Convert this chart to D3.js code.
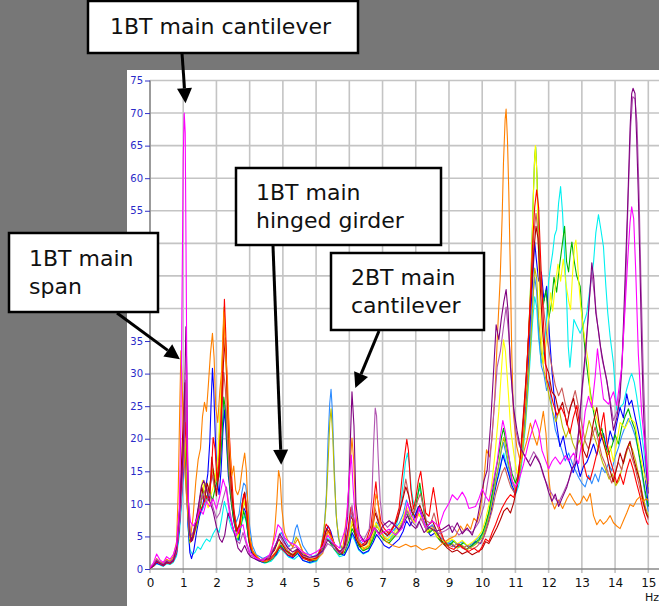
<!DOCTYPE html>
<html>
<head>
<meta charset="utf-8">
<script src="https://cdn.jsdelivr.net/npm/d3@7"></script>
<style>
  html, body { margin: 0; padding: 0; background: #777777; }
  svg { display: block; }
</style>
</head>
<body>
<svg id="chart" width="659" height="606"></svg>
<script>
// Frequency axis ticks (Hz) and amplitude ticks
const freqTicks = [0, 1, 2, 3, 4, 5, 6, 7, 8, 9, 10, 11, 12, 13, 14, 15];
const ampTicks = [0, 5, 10, 15, 20, 25, 30, 35, 40, 45, 50, 55, 60, 65, 70, 75];

// Spectra, stored as flat [frequency, amplitude, frequency, amplitude, ...] lists
const cyanTrace = [0,0.1, 0.1,0.4, 0.2,0.8, 0.3,0.6, 0.4,0.4, 0.5,0.8, 0.6,0.7, 0.7,1.0, 0.8,2.0, 0.88,5.1, 0.95,9.8, 1.0,13.6, 1.05,20.6, 1.1,14.8, 1.15,6.2, 1.2,3.0, 1.28,2.2, 1.36,2.6, 1.44,3.4, 1.52,3.0, 1.6,3.8, 1.7,4.6, 1.8,4.2, 1.9,5.4, 2.0,6.3, 2.08,5.6, 2.16,7.8, 2.24,10.4, 2.3,9.2, 2.38,7.6, 2.46,6.2, 2.54,5.4, 2.62,4.3, 2.7,5.6, 2.78,7.4, 2.84,8.2, 2.9,7.1, 2.98,4.6, 3.08,2.4, 3.25,1.3, 3.45,0.9, 3.65,1.2, 3.82,2.2, 3.94,3.1, 4.04,2.6, 4.18,1.8, 4.34,1.5, 4.48,2.1, 4.62,1.3, 4.82,0.9, 5.02,1.2, 5.18,2.6, 5.32,4.8, 5.42,4.4, 5.55,3.0, 5.7,1.9, 5.85,2.1, 6.0,3.8, 6.08,5.2, 6.16,4.4, 6.28,2.9, 6.42,2.3, 6.58,2.7, 6.72,4.6, 6.82,6.8, 6.92,6.0, 7.05,5.0, 7.2,4.4, 7.35,5.6, 7.45,7.4, 7.55,10.2, 7.63,13.6, 7.69,16.4, 7.75,17.8, 7.8,16.2, 7.87,12.1, 7.95,9.6, 8.05,11.4, 8.12,12.4, 8.2,10.2, 8.3,7.4, 8.42,6.0, 8.55,6.6, 8.7,5.0, 8.85,4.2, 9.0,3.8, 9.15,4.4, 9.3,3.6, 9.45,4.0, 9.6,3.4, 9.75,3.7, 9.9,4.4, 10.0,5.0, 10.1,6.4, 10.2,8.2, 10.3,10.6, 10.4,12.8, 10.5,14.4, 10.58,16.4, 10.65,17.8, 10.72,16.2, 10.8,14.6, 10.9,12.4, 11.0,11.4, 11.1,12.8, 11.2,16.6, 11.3,21.8, 11.38,27.2, 11.46,33.6, 11.52,38.2, 11.58,41.8, 11.64,40.2, 11.7,35.4, 11.78,31.6, 11.86,33.4, 11.94,38.6, 12.0,44.2, 12.06,46.5, 12.12,48.5, 12.18,51.2, 12.24,52.1, 12.3,56.2, 12.36,58.7, 12.42,54.6, 12.49,47.0, 12.55,40.2, 12.59,34.2, 12.64,31.0, 12.7,34.6, 12.76,38.3, 12.84,37.4, 12.95,36.2, 13.05,37.6, 13.15,39.3, 13.25,43.4, 13.35,47.0, 13.42,51.6, 13.5,54.4, 13.57,52.2, 13.65,49.5, 13.72,43.6, 13.78,39.3, 13.85,35.7, 13.95,31.6, 14.05,24.4, 14.15,24.8, 14.25,25.4, 14.35,27.6, 14.45,29.4, 14.5,30.0, 14.58,28.6, 14.65,26.5, 14.75,22.8, 14.85,18.8, 14.95,14.2, 15.0,12.2];

const dodgerTrace = [0,0.2, 0.1,0.7, 0.2,1.5, 0.3,1.1, 0.4,0.8, 0.5,1.4, 0.6,1.1, 0.7,1.6, 0.8,3.2, 0.88,8.6, 0.95,14.8, 1.0,17.6, 1.05,15.2, 1.1,11.4, 1.15,6.8, 1.2,4.2, 1.3,4.9, 1.4,6.6, 1.5,8.2, 1.6,9.4, 1.7,10.8, 1.8,12.6, 1.88,14.4, 1.96,12.2, 2.05,13.6, 2.14,18.4, 2.2,22.6, 2.25,25.2, 2.3,21.8, 2.36,16.4, 2.44,11.2, 2.52,8.6, 2.6,7.2, 2.68,8.4, 2.76,11.6, 2.82,13.2, 2.88,12.8, 2.94,10.4, 3.0,6.6, 3.08,3.6, 3.2,2.2, 3.4,1.6, 3.6,2.1, 3.75,3.4, 3.88,4.8, 3.95,5.6, 4.05,4.6, 4.18,3.4, 4.3,4.2, 4.38,6.2, 4.43,6.8, 4.5,5.4, 4.6,3.6, 4.75,2.4, 4.9,1.9, 5.05,2.2, 5.15,3.4, 5.25,6.6, 5.31,11.6, 5.36,19.8, 5.41,25.4, 5.45,27.6, 5.49,24.2, 5.54,16.4, 5.6,8.6, 5.67,4.8, 5.75,3.2, 5.85,3.5, 5.95,5.2, 6.04,7.8, 6.1,8.4, 6.18,6.2, 6.3,4.4, 6.45,3.6, 6.6,4.2, 6.72,5.8, 6.82,7.2, 6.92,6.4, 7.05,5.6, 7.2,5.2, 7.35,6.1, 7.5,7.0, 7.62,8.4, 7.72,10.6, 7.82,9.2, 7.95,8.0, 8.08,9.4, 8.2,7.8, 8.35,6.2, 8.5,6.8, 8.65,5.2, 8.8,4.6, 8.95,4.0, 9.1,4.4, 9.25,3.8, 9.4,4.2, 9.55,3.5, 9.7,3.9, 9.85,4.6, 10.0,5.4, 10.1,6.8, 10.2,8.6, 10.3,11.2, 10.4,13.6, 10.5,15.8, 10.58,18.2, 10.64,19.4, 10.72,17.6, 10.8,15.4, 10.9,13.4, 11.0,12.2, 11.1,14.1, 11.2,18.6, 11.3,23.8, 11.38,29.6, 11.46,36.2, 11.52,41.4, 11.58,44.8, 11.64,42.6, 11.7,36.4, 11.78,31.2, 11.86,29.8, 11.94,27.4, 12.02,28.8, 12.1,24.6, 12.2,21.4, 12.3,19.8, 12.4,18.2, 12.5,16.6, 12.6,17.8, 12.7,16.4, 12.8,15.2, 12.9,14.1, 13.0,13.2, 13.1,12.6, 13.2,14.4, 13.3,13.1, 13.4,14.6, 13.5,13.4, 13.6,15.6, 13.7,14.8, 13.8,16.2, 13.9,15.1, 14.0,17.2, 14.1,18.6, 14.2,20.4, 14.3,21.8, 14.4,23.1, 14.5,22.0, 14.6,20.5, 14.7,18.2, 14.8,14.8, 14.9,11.6, 15.0,8.8];

const blueTrace = [0,0.1, 0.1,0.4, 0.2,0.9, 0.3,0.7, 0.4,0.5, 0.5,0.9, 0.6,0.8, 0.7,1.2, 0.8,2.4, 0.88,6.1, 0.95,11.4, 1.0,14.8, 1.05,18.5, 1.1,13.2, 1.15,6.4, 1.2,2.5, 1.25,1.6, 1.32,2.9, 1.4,5.6, 1.5,8.4, 1.58,9.6, 1.66,11.8, 1.74,14.6, 1.8,19.5, 1.84,25.6, 1.88,30.8, 1.92,27.4, 1.97,19.6, 2.02,13.8, 2.08,11.4, 2.14,15.2, 2.2,21.6, 2.25,24.4, 2.3,19.8, 2.36,14.2, 2.44,10.6, 2.52,7.4, 2.6,5.6, 2.68,4.4, 2.75,7.2, 2.82,9.4, 2.88,8.8, 2.95,5.2, 3.05,2.6, 3.2,1.5, 3.4,1.0, 3.6,1.3, 3.8,2.2, 3.92,3.6, 4.02,3.0, 4.15,2.1, 4.3,1.7, 4.45,2.4, 4.6,1.3, 4.8,1.0, 5.0,1.3, 5.15,2.9, 5.28,5.6, 5.36,6.6, 5.44,5.8, 5.55,3.8, 5.7,2.4, 5.85,2.1, 6.0,3.6, 6.08,5.6, 6.16,4.8, 6.28,3.1, 6.42,2.4, 6.58,2.8, 6.72,4.1, 6.82,5.3, 6.92,4.6, 7.05,3.6, 7.2,3.2, 7.35,3.9, 7.5,4.6, 7.62,5.8, 7.72,7.4, 7.82,6.6, 7.95,7.8, 8.08,9.6, 8.18,8.4, 8.3,6.2, 8.45,5.1, 8.6,5.6, 8.75,4.2, 8.9,3.6, 9.05,3.9, 9.2,3.3, 9.35,3.7, 9.5,3.0, 9.65,3.4, 9.8,4.2, 9.95,3.9, 10.05,5.0, 10.15,6.6, 10.25,8.4, 10.35,11.2, 10.45,13.6, 10.55,15.8, 10.62,17.5, 10.7,16.2, 10.8,14.6, 10.9,12.8, 11.0,11.6, 11.1,13.8, 11.2,18.2, 11.3,24.6, 11.38,31.2, 11.45,38.4, 11.52,44.6, 11.58,50.2, 11.63,47.5, 11.7,44.2, 11.78,45.6, 11.86,41.2, 11.94,43.4, 12.02,36.2, 12.1,30.4, 12.18,25.6, 12.24,22.2, 12.34,18.8, 12.44,20.4, 12.54,17.6, 12.64,16.2, 12.74,14.8, 12.84,16.6, 12.95,14.2, 13.05,15.8, 13.15,16.4, 13.25,17.7, 13.35,19.2, 13.45,17.5, 13.55,19.6, 13.65,20.8, 13.75,18.4, 13.85,21.2, 13.95,19.6, 14.05,22.4, 14.15,24.8, 14.25,23.2, 14.35,26.9, 14.42,25.2, 14.5,25.9, 14.6,23.4, 14.68,21.6, 14.75,19.8, 14.85,16.4, 14.95,12.2, 15.0,9.6];

const oliveTrace = [0,0.1, 0.1,0.5, 0.2,1.1, 0.3,0.8, 0.4,0.6, 0.5,1.0, 0.6,0.8, 0.7,1.3, 0.8,2.7, 0.88,7.0, 0.95,12.8, 1.0,16.4, 1.05,19.2, 1.1,14.6, 1.15,7.6, 1.2,4.0, 1.3,4.8, 1.4,6.5, 1.5,8.9, 1.58,11.6, 1.66,13.2, 1.74,11.8, 1.82,13.6, 1.9,15.4, 1.98,13.2, 2.06,16.8, 2.12,24.6, 2.18,32.4, 2.23,40.2, 2.27,35.6, 2.32,26.8, 2.38,18.2, 2.45,12.6, 2.52,9.0, 2.6,6.6, 2.68,5.8, 2.76,8.2, 2.83,10.4, 2.9,9.1, 2.98,5.6, 3.08,2.9, 3.25,1.6, 3.45,1.1, 3.65,1.5, 3.8,2.6, 3.92,4.0, 4.02,3.3, 4.15,2.5, 4.28,3.2, 4.4,4.9, 4.48,4.2, 4.6,2.5, 4.8,1.5, 5.0,1.7, 5.12,2.9, 5.22,5.2, 5.3,9.6, 5.36,16.2, 5.41,22.4, 5.45,24.6, 5.5,20.6, 5.55,13.8, 5.62,7.2, 5.7,4.2, 5.8,3.0, 5.92,3.8, 6.02,6.0, 6.1,6.9, 6.18,5.2, 6.3,3.6, 6.45,2.9, 6.6,3.4, 6.72,5.1, 6.82,6.6, 6.92,5.8, 7.05,4.8, 7.2,4.3, 7.35,5.2, 7.5,6.1, 7.62,7.4, 7.72,9.1, 7.82,8.0, 7.95,7.2, 8.08,8.6, 8.2,7.4, 8.35,5.6, 8.5,6.2, 8.65,4.8, 8.8,4.0, 8.95,3.5, 9.1,3.9, 9.25,3.2, 9.4,3.6, 9.55,3.0, 9.7,3.4, 9.85,4.0, 10.0,4.8, 10.1,6.2, 10.2,8.0, 10.3,10.4, 10.4,13.2, 10.5,16.1, 10.58,18.6, 10.65,20.2, 10.72,18.4, 10.8,16.0, 10.9,13.5, 11.0,12.2, 11.1,13.6, 11.2,17.4, 11.3,22.6, 11.38,28.4, 11.46,34.8, 11.52,40.6, 11.58,46.2, 11.64,44.6, 11.7,38.4, 11.78,33.2, 11.86,30.4, 11.94,28.6, 12.02,26.4, 12.12,24.2, 12.22,22.6, 12.32,24.4, 12.42,21.8, 12.52,20.2, 12.62,21.6, 12.72,19.4, 12.82,18.2, 12.92,19.8, 13.02,18.4, 13.12,20.6, 13.22,22.8, 13.32,21.2, 13.42,19.6, 13.52,18.1, 13.62,16.4, 13.72,15.2, 13.82,13.8, 13.92,14.6, 14.02,12.8, 14.12,13.6, 14.22,15.8, 14.32,17.4, 14.42,19.2, 14.52,18.4, 14.62,16.6, 14.72,14.2, 14.82,11.6, 14.92,9.4, 15.0,8.2];

const greenTrace = [0,0.2, 0.1,0.6, 0.2,1.3, 0.3,1.0, 0.4,0.7, 0.5,1.2, 0.6,1.0, 0.7,1.5, 0.8,3.1, 0.88,8.1, 0.95,14.2, 1.0,18.6, 1.05,20.8, 1.1,15.4, 1.15,8.2, 1.2,4.4, 1.3,5.1, 1.4,6.9, 1.5,9.1, 1.6,12.4, 1.68,10.6, 1.78,12.2, 1.88,10.5, 1.98,12.8, 2.08,14.2, 2.16,19.6, 2.22,26.4, 2.28,24.2, 2.34,16.8, 2.42,11.4, 2.5,8.2, 2.58,6.1, 2.66,4.5, 2.74,6.8, 2.82,8.9, 2.9,7.4, 2.98,4.1, 3.1,2.3, 3.3,1.3, 3.5,1.0, 3.7,1.6, 3.85,2.9, 3.95,3.6, 4.05,3.1, 4.2,2.3, 4.35,2.0, 4.48,2.7, 4.6,1.9, 4.8,1.2, 5.0,1.4, 5.15,2.6, 5.3,4.6, 5.4,4.2, 5.55,3.0, 5.7,2.2, 5.85,2.5, 6.0,4.4, 6.08,6.2, 6.16,5.4, 6.28,3.6, 6.42,2.8, 6.58,3.2, 6.72,4.6, 6.82,6.0, 6.92,5.2, 7.05,4.4, 7.2,4.0, 7.35,4.9, 7.5,5.8, 7.62,7.2, 7.72,8.6, 7.82,7.6, 7.95,8.8, 8.06,11.2, 8.12,13.2, 8.2,10.6, 8.3,7.2, 8.42,5.6, 8.55,6.2, 8.7,4.6, 8.85,4.0, 9.0,3.6, 9.15,4.3, 9.3,3.5, 9.45,4.1, 9.6,3.3, 9.75,3.9, 9.9,4.5, 10.0,5.4, 10.1,6.9, 10.2,8.8, 10.3,11.6, 10.4,14.8, 10.5,17.6, 10.58,20.2, 10.64,21.6, 10.72,19.4, 10.8,17.2, 10.9,14.6, 11.0,13.2, 11.1,14.8, 11.2,19.6, 11.3,26.4, 11.38,33.6, 11.45,42.4, 11.5,50.2, 11.54,57.6, 11.58,63.4, 11.61,64.8, 11.65,60.2, 11.7,51.6, 11.76,44.2, 11.84,40.6, 11.92,42.8, 12.0,38.4, 12.08,40.6, 12.16,44.8, 12.24,42.5, 12.32,46.2, 12.4,49.4, 12.48,52.6, 12.54,47.2, 12.6,45.6, 12.66,48.8, 12.7,50.2, 12.76,47.6, 12.84,45.1, 12.95,43.4, 13.02,38.2, 13.1,33.2, 13.2,29.1, 13.3,25.6, 13.4,22.8, 13.5,20.4, 13.6,21.6, 13.7,19.1, 13.8,17.6, 13.9,18.8, 14.0,20.6, 14.1,19.2, 14.2,21.8, 14.3,23.4, 14.4,24.6, 14.5,22.8, 14.6,21.4, 14.7,18.2, 14.8,15.4, 14.9,12.1, 15.0,9.6];

const yellowTrace = [0,0.1, 0.1,0.5, 0.2,1.2, 0.3,0.9, 0.4,0.6, 0.5,1.1, 0.6,0.9, 0.7,1.4, 0.8,2.9, 0.88,7.6, 0.95,13.5, 1.0,17.2, 1.05,22.4, 1.1,16.1, 1.15,8.6, 1.2,4.6, 1.3,5.4, 1.4,7.2, 1.5,10.6, 1.58,13.6, 1.65,11.2, 1.75,9.4, 1.85,11.6, 1.95,13.4, 2.05,17.6, 2.12,25.8, 2.18,33.2, 2.23,39.6, 2.28,34.1, 2.33,24.6, 2.4,15.2, 2.48,10.4, 2.56,7.2, 2.64,4.8, 2.72,6.6, 2.8,9.6, 2.87,10.8, 2.95,6.4, 3.05,3.2, 3.2,1.8, 3.4,1.1, 3.6,1.5, 3.8,2.8, 3.92,4.2, 4.02,3.4, 4.15,2.6, 4.3,2.2, 4.42,3.1, 4.55,2.4, 4.75,1.5, 5.0,1.7, 5.15,3.0, 5.3,5.4, 5.42,5.0, 5.55,3.6, 5.7,2.6, 5.85,2.9, 6.0,5.2, 6.08,7.4, 6.15,6.5, 6.25,4.3, 6.4,3.1, 6.55,3.6, 6.7,5.4, 6.8,7.1, 6.9,6.2, 7.0,5.1, 7.15,4.6, 7.3,5.4, 7.45,6.2, 7.6,7.5, 7.72,9.6, 7.82,8.4, 7.95,7.1, 8.1,8.4, 8.22,7.3, 8.35,5.8, 8.5,6.4, 8.65,5.0, 8.8,4.4, 8.95,4.1, 9.1,4.6, 9.25,3.9, 9.4,4.4, 9.55,3.6, 9.7,4.1, 9.85,4.8, 10.0,5.9, 10.1,7.6, 10.2,9.8, 10.3,13.6, 10.4,18.4, 10.5,24.2, 10.58,30.6, 10.64,35.2, 10.7,33.4, 10.78,27.6, 10.86,21.4, 10.95,17.8, 11.05,14.6, 11.15,16.2, 11.25,22.4, 11.34,29.0, 11.42,38.5, 11.48,46.2, 11.53,55.4, 11.57,62.0, 11.6,65.0, 11.64,61.5, 11.68,52.4, 11.74,39.3, 11.8,34.2, 11.84,31.6, 11.9,33.8, 11.94,35.2, 12.0,38.8, 12.06,42.4, 12.12,39.6, 12.2,43.5, 12.28,46.8, 12.36,44.2, 12.44,47.6, 12.52,43.8, 12.6,41.2, 12.66,39.8, 12.72,45.3, 12.78,49.6, 12.82,50.5, 12.86,48.2, 12.9,44.4, 12.97,40.1, 13.05,36.7, 13.12,34.2, 13.2,31.6, 13.25,26.5, 13.32,25.2, 13.4,24.0, 13.5,22.1, 13.65,19.8, 13.75,17.2, 13.85,18.9, 13.95,16.5, 14.05,19.4, 14.15,22.5, 14.3,21.6, 14.45,23.2, 14.6,22.4, 14.7,19.1, 14.8,16.4, 14.9,14.1, 15.0,12.6];

const rosyTrace = [0,0.2, 0.1,0.5, 0.2,1.2, 0.3,0.9, 0.4,0.6, 0.5,1.1, 0.6,0.9, 0.7,1.3, 0.8,2.8, 0.88,7.4, 0.95,14.1, 1.0,19.6, 1.05,24.8, 1.1,18.2, 1.15,9.4, 1.2,4.8, 1.3,5.6, 1.4,7.6, 1.5,9.8, 1.6,11.2, 1.7,12.6, 1.78,11.4, 1.86,14.8, 1.94,12.6, 2.02,12.2, 2.1,16.8, 2.17,24.4, 2.22,30.2, 2.27,27.6, 2.33,19.8, 2.4,13.6, 2.48,9.8, 2.56,7.2, 2.64,5.6, 2.72,7.8, 2.8,10.8, 2.86,11.6, 2.93,8.6, 3.0,4.4, 3.1,2.4, 3.3,1.4, 3.5,1.1, 3.7,1.7, 3.85,3.2, 3.95,4.1, 4.05,3.5, 4.2,2.5, 4.35,2.2, 4.48,2.9, 4.6,2.0, 4.8,1.3, 5.0,1.5, 5.15,2.8, 5.28,5.2, 5.38,5.9, 5.5,4.2, 5.65,2.8, 5.8,2.4, 5.95,4.9, 6.04,8.8, 6.1,8.1, 6.2,5.2, 6.35,3.6, 6.5,3.9, 6.65,5.6, 6.76,9.4, 6.84,8.2, 6.95,6.2, 7.1,5.4, 7.25,6.0, 7.4,7.2, 7.52,9.0, 7.62,11.4, 7.7,13.8, 7.76,12.2, 7.85,9.6, 7.95,8.6, 8.05,10.4, 8.14,11.6, 8.22,9.8, 8.32,7.4, 8.45,7.0, 8.55,8.6, 8.65,6.6, 8.8,4.8, 8.95,3.8, 9.1,3.4, 9.25,3.9, 9.4,3.2, 9.55,3.6, 9.7,3.0, 9.85,3.5, 10.0,4.3, 10.1,5.6, 10.2,7.2, 10.3,9.0, 10.4,11.4, 10.5,13.2, 10.6,14.8, 10.68,15.6, 10.76,14.2, 10.86,12.6, 10.96,11.8, 11.06,13.4, 11.16,17.8, 11.26,24.2, 11.35,31.6, 11.43,39.2, 11.5,46.4, 11.56,51.8, 11.62,54.6, 11.67,52.2, 11.73,46.6, 11.8,42.4, 11.88,38.6, 11.96,35.2, 12.04,32.6, 12.12,30.4, 12.2,28.2, 12.3,26.6, 12.4,27.8, 12.5,25.4, 12.6,23.8, 12.7,25.6, 12.8,27.4, 12.9,24.8, 13.0,22.2, 13.1,19.6, 13.2,18.4, 13.3,20.2, 13.4,21.8, 13.5,19.6, 13.6,17.4, 13.7,16.2, 13.8,14.6, 13.9,13.2, 14.0,14.8, 14.1,16.4, 14.2,15.2, 14.3,17.6, 14.4,18.8, 14.5,17.2, 14.6,15.6, 14.7,13.4, 14.8,11.2, 14.9,9.0, 15.0,7.6];

const darkRedTrace = [0,0.2, 0.1,0.6, 0.2,1.4, 0.3,1.0, 0.4,0.7, 0.5,1.2, 0.6,1.0, 0.7,1.4, 0.8,3.0, 0.88,8.2, 0.95,16.5, 1.0,22.8, 1.05,28.6, 1.1,21.4, 1.15,11.3, 1.2,5.2, 1.28,4.4, 1.38,6.8, 1.48,10.1, 1.56,12.6, 1.64,10.4, 1.72,13.2, 1.8,11.6, 1.86,17.2, 1.92,14.4, 2.0,11.2, 2.08,15.3, 2.15,24.2, 2.21,31.6, 2.27,35.5, 2.32,27.4, 2.38,18.8, 2.45,12.3, 2.52,8.4, 2.6,5.8, 2.7,6.9, 2.78,10.2, 2.85,11.8, 2.92,8.1, 3.0,3.6, 3.15,1.9, 3.35,1.3, 3.55,1.7, 3.75,2.9, 3.88,4.6, 3.98,3.8, 4.1,2.8, 4.3,2.1, 4.45,3.0, 4.6,1.8, 4.85,1.4, 5.05,1.8, 5.2,3.9, 5.32,6.2, 5.45,5.1, 5.6,3.2, 5.78,2.4, 5.92,4.4, 6.03,8.1, 6.1,7.6, 6.2,4.6, 6.35,3.4, 6.5,3.8, 6.65,5.2, 6.78,8.6, 6.88,7.1, 7.0,5.8, 7.15,5.1, 7.3,6.2, 7.45,7.6, 7.6,10.5, 7.7,12.6, 7.78,11.4, 7.88,8.8, 8.0,7.9, 8.12,9.8, 8.22,8.4, 8.35,6.6, 8.5,7.4, 8.65,5.6, 8.8,4.1, 8.95,3.2, 9.1,2.6, 9.25,2.9, 9.4,2.3, 9.55,2.7, 9.7,2.2, 9.85,2.6, 10.0,3.1, 10.1,4.2, 10.2,3.9, 10.32,5.1, 10.45,6.4, 10.55,7.6, 10.65,8.9, 10.75,9.4, 10.85,8.6, 10.95,10.2, 11.05,12.8, 11.15,17.5, 11.25,24.4, 11.35,31.6, 11.42,37.8, 11.5,44.5, 11.56,49.2, 11.62,52.6, 11.68,50.8, 11.74,44.2, 11.82,36.4, 11.9,31.5, 12.0,30.1, 12.1,27.2, 12.2,26.5, 12.3,24.2, 12.42,25.6, 12.55,22.1, 12.65,24.8, 12.75,26.2, 12.85,23.4, 12.95,20.6, 13.05,18.2, 13.15,17.1, 13.25,19.5, 13.35,22.6, 13.45,24.8, 13.55,21.2, 13.65,19.4, 13.75,17.6, 13.85,15.1, 13.95,13.4, 14.05,15.5, 14.15,17.8, 14.25,16.2, 14.35,18.4, 14.45,19.6, 14.55,17.1, 14.65,15.2, 14.75,13.5, 14.85,10.2, 14.95,8.4, 15.0,7.9];

const redTrace = [0,0.1, 0.1,0.4, 0.2,1.1, 0.3,0.8, 0.4,0.5, 0.5,1.0, 0.6,0.8, 0.7,1.2, 0.8,2.6, 0.88,6.4, 0.95,12.5, 1.02,18.4, 1.07,22.5, 1.12,16.2, 1.17,8.1, 1.23,4.2, 1.3,5.1, 1.4,7.4, 1.5,8.8, 1.6,9.9, 1.7,11.2, 1.78,10.4, 1.85,14.6, 1.9,20.2, 1.96,18.4, 2.02,13.6, 2.08,16.4, 2.14,22.8, 2.2,33.5, 2.24,41.4, 2.28,36.2, 2.33,26.4, 2.38,21.5, 2.45,14.8, 2.52,9.5, 2.6,6.2, 2.68,5.4, 2.75,8.6, 2.82,11.5, 2.88,10.6, 2.95,6.3, 3.05,3.1, 3.2,1.8, 3.4,1.2, 3.6,1.5, 3.8,2.6, 3.9,3.4, 4.0,2.9, 4.15,2.2, 4.3,1.9, 4.45,2.8, 4.6,1.6, 4.8,1.3, 5.0,1.6, 5.15,3.2, 5.3,6.9, 5.4,6.2, 5.5,4.3, 5.65,2.9, 5.8,2.6, 5.95,5.6, 6.05,9.5, 6.12,8.2, 6.22,5.1, 6.35,3.6, 6.5,4.2, 6.65,6.6, 6.75,11.2, 6.8,13.4, 6.85,10.6, 6.95,7.3, 7.05,6.2, 7.2,5.4, 7.35,6.6, 7.5,9.4, 7.58,13.7, 7.66,17.2, 7.73,19.9, 7.78,18.2, 7.85,12.4, 7.93,9.2, 8.0,10.8, 8.08,13.6, 8.15,15.0, 8.22,12.1, 8.3,8.6, 8.4,8.1, 8.47,10.6, 8.53,12.5, 8.6,10.2, 8.7,6.6, 8.85,4.4, 9.0,3.3, 9.15,3.0, 9.3,3.8, 9.45,3.1, 9.6,2.7, 9.75,3.2, 9.9,2.6, 10.0,3.5, 10.1,4.6, 10.2,4.2, 10.3,5.6, 10.4,6.8, 10.5,8.2, 10.6,9.4, 10.73,10.6, 10.85,11.4, 10.95,11.0, 11.03,12.6, 11.12,15.6, 11.22,21.4, 11.32,28.5, 11.4,36.5, 11.46,42.6, 11.52,50.2, 11.58,55.6, 11.64,58.2, 11.7,55.4, 11.76,47.5, 11.84,38.2, 11.94,29.2, 12.04,27.5, 12.14,25.4, 12.25,23.6, 12.38,24.8, 12.5,23.4, 12.64,20.8, 12.74,23.2, 12.85,25.1, 12.95,21.3, 13.05,16.3, 13.15,14.2, 13.25,13.7, 13.35,15.6, 13.5,18.8, 13.6,22.5, 13.66,24.0, 13.75,19.6, 13.85,16.8, 13.95,15.1, 14.05,13.2, 14.15,14.6, 14.25,13.0, 14.35,15.2, 14.45,16.9, 14.55,15.2, 14.65,13.1, 14.75,11.2, 14.85,8.8, 14.95,7.2, 15.0,6.8];

const orangeTrace = [0,0.3, 0.1,0.8, 0.2,1.6, 0.3,1.1, 0.4,0.9, 0.5,1.5, 0.6,1.2, 0.7,1.9, 0.8,4.2, 0.85,12, 0.9,26, 0.93,33.5, 0.96,30, 1.0,22, 1.04,16, 1.1,11, 1.16,7, 1.22,4.8, 1.3,8.2, 1.38,13.5, 1.45,16.8, 1.52,18.5, 1.58,23.4, 1.64,25.6, 1.7,24.2, 1.76,28.5, 1.82,33.1, 1.88,36.2, 1.93,32.4, 1.98,24.8, 2.04,22.5, 2.1,27.3, 2.16,30.6, 2.22,39.5, 2.27,33.8, 2.33,29.2, 2.4,18.6, 2.46,14.3, 2.52,15.8, 2.58,12.1, 2.64,11.4, 2.7,12.3, 2.78,15.6, 2.85,17.8, 2.9,15.2, 2.95,9.4, 3.0,4.8, 3.1,2.6, 3.3,1.5, 3.5,1.2, 3.65,2.4, 3.75,5.6, 3.82,10.5, 3.87,15.1, 3.92,13.8, 3.97,9.2, 4.05,5.6, 4.15,4.4, 4.3,3.4, 4.45,4.6, 4.6,2.7, 4.8,1.6, 5.0,1.4, 5.2,2.4, 5.35,5.8, 5.5,4.5, 5.65,2.6, 5.8,2.9, 5.95,9.6, 6.03,16.5, 6.08,20.1, 6.13,16.8, 6.2,8.2, 6.3,4.1, 6.45,3.1, 6.6,3.6, 6.72,6.4, 6.8,11.5, 6.86,10.4, 6.95,5.8, 7.1,4.2, 7.3,3.6, 7.5,3.3, 7.7,3.8, 7.85,3.4, 8.0,3.6, 8.2,2.9, 8.4,3.3, 8.6,3.0, 8.8,3.9, 9.0,4.6, 9.2,5.1, 9.35,6.6, 9.45,5.8, 9.55,6.9, 9.65,6.1, 9.75,7.8, 9.85,7.2, 9.93,8.6, 10.03,12.5, 10.13,18.3, 10.22,17.2, 10.29,19.8, 10.38,26.5, 10.46,36, 10.54,44.4, 10.6,54, 10.64,62.3, 10.69,69, 10.72,70.6, 10.76,66, 10.8,58, 10.85,45, 10.89,33, 10.94,23.9, 11.0,20.5, 11.04,18.8, 11.15,16.4, 11.24,17.8, 11.35,19.8, 11.45,22.4, 11.55,20.5, 11.65,19, 11.75,21.4, 11.84,24.2, 11.92,20.8, 12.0,14.2, 12.08,10.6, 12.18,9.2, 12.3,10.6, 12.42,9.3, 12.55,10.8, 12.64,11.6, 12.75,10.6, 12.85,9.8, 12.95,10.1, 13.05,11.2, 13.15,10.4, 13.25,11.6, 13.35,8.2, 13.45,6.8, 13.55,7.6, 13.65,6.9, 13.75,7.4, 13.85,8.2, 13.95,7.1, 14.05,6.6, 14.15,6.2, 14.25,7.4, 14.35,8.6, 14.45,9.9, 14.55,9.6, 14.65,10.6, 14.75,11.1, 14.85,10.4, 14.95,10.8, 15.0,10.5];

const orchidTrace = [0,0.2, 0.1,0.7, 0.2,1.5, 0.3,1.0, 0.4,0.7, 0.5,1.3, 0.6,1.0, 0.7,1.5, 0.8,2.8, 0.9,7.5, 0.98,13, 1.04,21, 1.08,29, 1.12,19, 1.16,9, 1.22,5.2, 1.3,5.6, 1.4,7.8, 1.5,10.5, 1.6,11.6, 1.7,10.2, 1.8,11.6, 1.9,9.4, 2.0,7.8, 2.1,8.6, 2.2,10.8, 2.3,12.6, 2.4,9.1, 2.5,6.2, 2.6,4.4, 2.7,3.9, 2.8,5.6, 2.9,3.8, 3.0,2.2, 3.3,1.4, 3.6,1.9, 3.8,3.9, 3.9,5.1, 4.0,4.2, 4.2,3.0, 4.4,3.4, 4.6,2.1, 4.8,1.7, 5.0,1.9, 5.2,2.6, 5.35,3.9, 5.5,3.4, 5.7,2.4, 5.9,3.3, 6.0,6.2, 6.08,9.8, 6.15,7.1, 6.3,4.3, 6.45,4.6, 6.6,6.2, 6.68,11, 6.73,19, 6.78,24.7, 6.82,23.5, 6.87,17, 6.93,10.5, 7.0,7.3, 7.15,6.4, 7.3,7.2, 7.5,6.1, 7.65,7.6, 7.75,8.9, 7.9,7.2, 8.05,6.4, 8.15,7.8, 8.3,6.2, 8.5,6.6, 8.7,5.4, 8.9,5.9, 9.1,6.6, 9.3,5.2, 9.5,6.1, 9.7,5.6, 9.9,7.2, 10.05,9.6, 10.2,14.5, 10.35,24, 10.45,31, 10.55,33.5, 10.65,37.5, 10.72,40.2, 10.8,36, 10.9,27.5, 11.0,21.5, 11.1,19.2, 11.25,17.6, 11.4,16.4, 11.55,18, 11.7,16.8, 11.85,14.2, 12.0,12.4, 12.15,11.1, 12.3,10.2, 12.45,11.8, 12.6,13.5, 12.75,15.9, 12.9,21, 13.0,26.8, 13.12,33.2, 13.22,41, 13.3,45.5, 13.38,42, 13.48,37.2, 13.6,32.5, 13.72,29.6, 13.85,26, 13.95,22.8, 14.08,24.5, 14.2,30.5, 14.3,41, 14.4,58, 14.47,68, 14.53,72.5, 14.6,72.2, 14.66,68.5, 14.72,58, 14.78,44, 14.85,30, 14.92,20, 15.0,13];

const purpleTrace = [0,0.1, 0.1,0.5, 0.2,1.2, 0.3,0.9, 0.4,0.6, 0.5,1.1, 0.6,0.9, 0.7,1.3, 0.8,3.2, 0.88,8, 0.95,14, 1.0,18, 1.04,26, 1.08,37.2, 1.11,30, 1.14,14, 1.18,6, 1.25,4.2, 1.35,6.5, 1.45,9.4, 1.55,12.8, 1.62,13.6, 1.7,12.2, 1.8,10.4, 1.9,8.8, 2.0,6.5, 2.1,4.6, 2.17,4.1, 2.25,5.2, 2.35,8.6, 2.45,7.2, 2.55,5.4, 2.65,3.2, 2.75,2.6, 2.85,3.6, 2.95,2.4, 3.05,1.8, 3.3,1.2, 3.6,1.6, 3.8,3.8, 3.9,5.4, 4.0,4.6, 4.15,3.2, 4.3,2.6, 4.45,3.1, 4.6,2.2, 4.8,1.8, 5.0,2.0, 5.2,2.8, 5.35,4.5, 5.5,3.8, 5.7,2.6, 5.85,3.4, 5.95,8, 6.02,18, 6.08,27.2, 6.14,22, 6.2,10, 6.3,5.4, 6.45,4.2, 6.6,4.6, 6.75,6.3, 6.9,5.4, 7.0,6.6, 7.2,7.4, 7.35,6.8, 7.5,5.9, 7.65,7.1, 7.75,8.2, 7.85,6.9, 8.0,6.2, 8.1,7.3, 8.25,5.6, 8.4,6.4, 8.6,5.8, 8.8,6.1, 9.0,6.8, 9.1,5.6, 9.25,7.1, 9.4,5.4, 9.55,6.3, 9.7,5.2, 9.85,7.6, 9.95,10.4, 10.05,13.5, 10.15,15.2, 10.25,22, 10.35,31, 10.42,37.5, 10.5,35.2, 10.58,38.6, 10.65,41, 10.72,42.9, 10.78,39.5, 10.85,31, 10.95,24.5, 11.05,21.2, 11.15,18.6, 11.3,17.2, 11.45,15.8, 11.6,17.4, 11.75,16.1, 11.9,13.6, 12.0,11.8, 12.1,10.4, 12.2,11.5, 12.3,9.6, 12.4,10.8, 12.55,12.6, 12.7,15.4, 12.82,16.3, 12.92,22, 13.0,27.5, 13.1,33, 13.18,38, 13.26,44, 13.3,47, 13.36,44.5, 13.42,39.3, 13.5,36.6, 13.56,34.2, 13.65,31.5, 13.75,29, 13.85,25.4, 13.95,21.3, 14.05,23.2, 14.15,26.4, 14.22,33, 14.3,44.4, 14.38,56, 14.45,67.5, 14.5,73, 14.54,73.8, 14.6,73, 14.65,66, 14.7,57.4, 14.75,46, 14.8,34.2, 14.85,25, 14.9,18.8, 14.95,14.5, 15.0,11.6];

const magentaTrace = [0,0.2, 0.1,0.9, 0.2,2.3, 0.3,1.4, 0.4,1.0, 0.5,1.9, 0.6,1.5, 0.7,2.2, 0.8,3.8, 0.88,9, 0.93,22, 0.97,45, 1.0,63, 1.03,70, 1.06,67, 1.09,45, 1.12,20, 1.16,10, 1.22,7.2, 1.3,6.6, 1.4,7.5, 1.5,9.2, 1.6,8.4, 1.7,10.3, 1.8,9.6, 1.9,10.8, 2.0,9.2, 2.1,11.2, 2.2,13.8, 2.3,12.1, 2.4,8.3, 2.5,6.2, 2.6,5.1, 2.7,6.3, 2.8,6.8, 2.9,4.2, 3.0,2.6, 3.2,1.6, 3.4,1.3, 3.6,2.2, 3.75,4.5, 3.85,6.8, 3.95,6.2, 4.05,4.8, 4.2,4.1, 4.4,3.6, 4.6,2.6, 4.8,2.1, 5.0,2.6, 5.2,3.4, 5.35,5.2, 5.5,4.1, 5.7,3.2, 5.9,6.5, 6.0,14, 6.06,17.5, 6.12,12, 6.2,6.3, 6.4,4.2, 6.6,4.8, 6.75,6.4, 6.9,5.2, 7.0,5.6, 7.2,6.1, 7.4,5.2, 7.6,6.3, 7.75,10.2, 7.85,8.4, 8.0,7.2, 8.1,9.4, 8.3,6.4, 8.5,7.4, 8.7,6.5, 8.85,8.8, 9.0,10.1, 9.1,11.4, 9.25,10.6, 9.4,11.8, 9.5,10.9, 9.6,9.3, 9.8,9.6, 9.9,10.8, 10.0,12.3, 10.1,11.2, 10.2,10.4, 10.3,12.5, 10.45,16.5, 10.55,20.5, 10.62,22.8, 10.7,21, 10.8,17.5, 10.9,13.6, 11.0,12.6, 11.1,13.5, 11.25,16.2, 11.4,19.5, 11.5,21.2, 11.6,22.9, 11.7,21.4, 11.8,18.2, 11.9,16.8, 12.0,15.4, 12.1,16.5, 12.2,17.2, 12.35,16.1, 12.5,17.4, 12.6,16.6, 12.75,17.8, 12.9,16.2, 13.0,19.5, 13.1,24.2, 13.2,26.5, 13.3,24.8, 13.4,29.5, 13.47,33.8, 13.55,30.2, 13.65,26.1, 13.8,25.3, 13.95,27.2, 14.05,25.1, 14.2,31, 14.3,40, 14.38,47.5, 14.45,53.2, 14.5,55.6, 14.56,53.8, 14.62,46, 14.7,33, 14.8,24, 14.9,18.8, 15.0,13.5];

// Drawing order, back to front, and the colour of each trace
const traceData = [cyanTrace, dodgerTrace, blueTrace, oliveTrace, greenTrace, yellowTrace, rosyTrace, darkRedTrace, redTrace, orangeTrace, orchidTrace, purpleTrace, magentaTrace];
const traceColors = ["#00f0f0", "#2d8cff", "#0000ff", "#bcbc00", "#00b400", "#ffff00", "#cc5a5a", "#b40000", "#ff0000", "#ff8000", "#b055b0", "#800080", "#ff00ff"];

// Callout boxes: text lines and the point each arrow marks (Hz, amplitude)
const calloutText = [["1BT main cantilever"], ["1BT main", "span"], ["1BT main", "hinged girder"], ["2BT main", "cantilever"]];
const calloutTarget = [[1.07, 71.5], [0.9, 32.2], [3.95, 16.0], [6.18, 27.8]];

const svg = d3.select("#chart");
const W = 659, H = 606;

// backgrounds
svg.append("rect").attr("x", 0).attr("y", 0).attr("width", W).attr("height", H).attr("fill", "#777777");
svg.append("rect").attr("x", 127).attr("y", 70).attr("width", W - 127).attr("height", H - 70).attr("fill", "#ffffff");

const x = d3.scaleLinear().domain([0, 15]).range([150, 648.3]);
const y = d3.scaleLinear().domain([0, 75]).range([569, 80.5]);

// grid
const grid = svg.append("g");
grid.selectAll("line.v").data(freqTicks).join("line")
  .attr("x1", d => x(d)).attr("x2", d => x(d))
  .attr("y1", y(75)).attr("y2", y(0) + 4)
  .attr("stroke", "#c4c4c4").attr("stroke-width", 1.6);
grid.selectAll("line.h").data(ampTicks.filter(d => d > 0)).join("line")
  .attr("x1", x(0)).attr("x2", W)
  .attr("y1", d => y(d)).attr("y2", d => y(d))
  .attr("stroke", "#c4c4c4").attr("stroke-width", 1.6);

// axes lines
svg.append("line").attr("x1", x(0)).attr("x2", W).attr("y1", y(0)).attr("y2", y(0))
  .attr("stroke", "#8a8a8a").attr("stroke-width", 1.5);
svg.append("line").attr("x1", x(0)).attr("x2", x(0)).attr("y1", y(75)).attr("y2", y(0))
  .attr("stroke", "#8a8a8a").attr("stroke-width", 1.5);

// y axis ticks and labels (blue)
const yAxis = d3.axisLeft(y).tickValues(ampTicks).tickSize(5).tickPadding(2);
const gy = svg.append("g").attr("transform", `translate(${x(0)},0)`).call(yAxis);
gy.select(".domain").remove();
gy.selectAll(".tick line").attr("stroke", "#3030c8");
gy.selectAll(".tick text").attr("fill", "#2a2ac8")
  .style("font-family", "'DejaVu Sans', Verdana, sans-serif").style("font-size", "10px");

// x axis labels
const xAxis = d3.axisBottom(x).tickValues(freqTicks).tickSize(0).tickPadding(9).tickFormat(d3.format("d"));
const gx = svg.append("g").attr("transform", `translate(0,${y(0)})`).call(xAxis);
gx.select(".domain").remove();
gx.selectAll(".tick text").attr("fill", "#111")
  .style("font-family", "'DejaVu Sans', Verdana, sans-serif").style("font-size", "12px");

svg.append("text").attr("x", 652).attr("y", 601).attr("text-anchor", "middle")
  .attr("fill", "#111").style("font-family", "'DejaVu Sans', Verdana, sans-serif").style("font-size", "11px")
  .text("Hz");

// traces
svg.append("clipPath").attr("id", "plotClip").append("rect")
  .attr("x", x(0)).attr("y", y(75) - 2).attr("width", W - x(0)).attr("height", y(0) - y(75) + 2);

const line = d3.line().x(d => x(d[0])).y(d => y(d[1]));
const toPairs = arr => d3.range(0, arr.length, 2).map(i => [arr[i], arr[i + 1]]);

const traces = svg.append("g").attr("clip-path", "url(#plotClip)");
traceData.forEach((arr, i) => {
  traces.append("path")
    .attr("d", line(toPairs(arr)))
    .attr("fill", "none")
    .attr("stroke", traceColors[i])
    .attr("stroke-width", 1.1)
    .attr("stroke-linejoin", "round");
});

// callouts
const boxes = [
  { x: 88, y: 1, w: 270, h: 52, tx: 110, ty: 34, from: [182, 53] },
  { x: 9, y: 233, w: 149, h: 79, tx: 29, ty: 266, from: [117, 313] },
  { x: 236, y: 168, w: 205, h: 77, tx: 256, ty: 200, from: [273, 246] },
  { x: 331, y: 253, w: 153, h: 77, tx: 351, ty: 285, from: [379, 331] }
];

const ann = svg.append("g");
boxes.forEach((b, i) => {
  const [fx, fy] = b.from;
  const tx = x(calloutTarget[i][0]), ty = y(calloutTarget[i][1]);
  const ang = Math.atan2(ty - fy, tx - fx);
  const headLen = 15, headHalf = 7.5;
  const bx = tx - headLen * Math.cos(ang), by = ty - headLen * Math.sin(ang);
  ann.append("line").attr("x1", fx).attr("y1", fy).attr("x2", bx).attr("y2", by)
    .attr("stroke", "#000").attr("stroke-width", 3);
  const px = -Math.sin(ang), py = Math.cos(ang);
  ann.append("path")
    .attr("d", `M${tx},${ty}L${bx + px * headHalf},${by + py * headHalf}L${bx - px * headHalf},${by - py * headHalf}Z`)
    .attr("fill", "#000");
});
boxes.forEach((b, i) => {
  ann.append("rect").attr("x", b.x).attr("y", b.y).attr("width", b.w).attr("height", b.h)
    .attr("fill", "#fff").attr("stroke", "#000").attr("stroke-width", 2.5);
  calloutText[i].forEach((t, k) => {
    ann.append("text").attr("x", b.tx).attr("y", b.ty + k * 27.5)
      .attr("fill", "#111")
      .style("font-family", "'DejaVu Sans', Verdana, sans-serif").style("font-size", "22px")
      .text(t);
  });
});
</script>
</body>
</html>
